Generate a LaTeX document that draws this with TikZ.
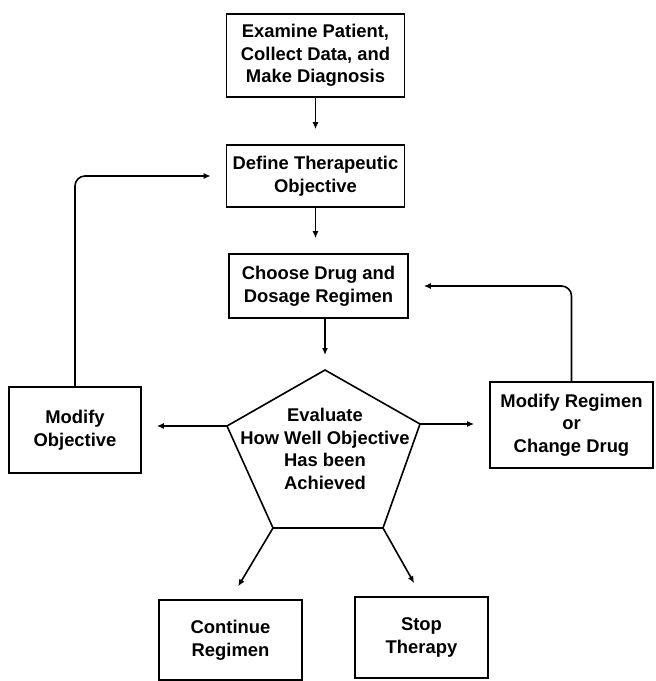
\documentclass[tikz,border=0pt]{standalone}
\usepackage{fontspec}
\setmainfont{Liberation Sans}
\usetikzlibrary{arrows.meta}

\begin{document}
\begin{tikzpicture}[x=0.5pt, y=-0.5pt,
  box/.style={draw, line width=0.8pt, align=center, inner sep=0pt,
    font=\bfseries\fontsize{9.2}{11.3}\selectfont},
  flow/.style={line width=0.8pt, -{Latex[length=3.5pt,width=3pt]}, shorten >=7.5pt},
  loop/.style={flow, rounded corners=5pt}]
  \useasboundingbox (0,0) rectangle (655,681);
  \node[box, minimum width=89pt, minimum height=41.5pt] (exam) at (315.5,55.5) {Examine Patient,\\Collect Data, and\\Make Diagnosis};
  \node[box, minimum width=89pt, minimum height=31pt] (define) at (315.5,176) {Define Therapeutic\\Objective};
  \node[box, minimum width=89.5pt, minimum height=32pt] (choose) at (318.5,286) {Choose Drug and\\Dosage Regimen};
  \node[box, minimum width=66pt, minimum height=43pt] (modobj) at (75,430) {Modify\\Objective};
  \node[box, minimum width=81.5pt, minimum height=43pt] (modreg) at (571.5,425) {Modify Regimen\\or\\Change Drug};
  \node[box, minimum width=71.5pt, minimum height=40pt] (cont) at (230.5,640) {Continue\\Regimen};
  \node[box, minimum width=66.5pt, minimum height=40.5pt] (stop) at (421.5,637.5) {Stop\\Therapy};
  \coordinate (ptop) at (325,370);
  \coordinate (pright) at (420,424);
  \coordinate (pbr) at (383,528);
  \coordinate (pbl) at (273,528);
  \coordinate (pleft) at (227,426);
  \draw[line width=0.8pt] (ptop) -- (pright) -- (pbr) -- (pbl) -- (pleft) -- cycle;
  \node[align=center, inner sep=0pt, font=\bfseries\fontsize{9.2}{11.3}\selectfont] (eval) at (325,449) {Evaluate\\How Well Objective\\Has been\\Achieved};
  \draw[flow] (exam.south) -- (define.north);
  \draw[flow] (define.south) -- (define.south |- choose.north);
  \draw[flow] (choose.south -| ptop) -- (ptop);
  \draw[loop] (modobj.north) |- (define.west);
  \draw[loop] (modreg.north) |- (choose.east);
  \draw[flow] (pleft) -- (pleft -| modobj.east);
  \draw[flow] (pright) -- (pright -| modreg.west);
  \draw[flow] (pbl) -- (cont.north);
  \draw[flow] (pbr) -- (stop.north);
\end{tikzpicture}
\end{document}
